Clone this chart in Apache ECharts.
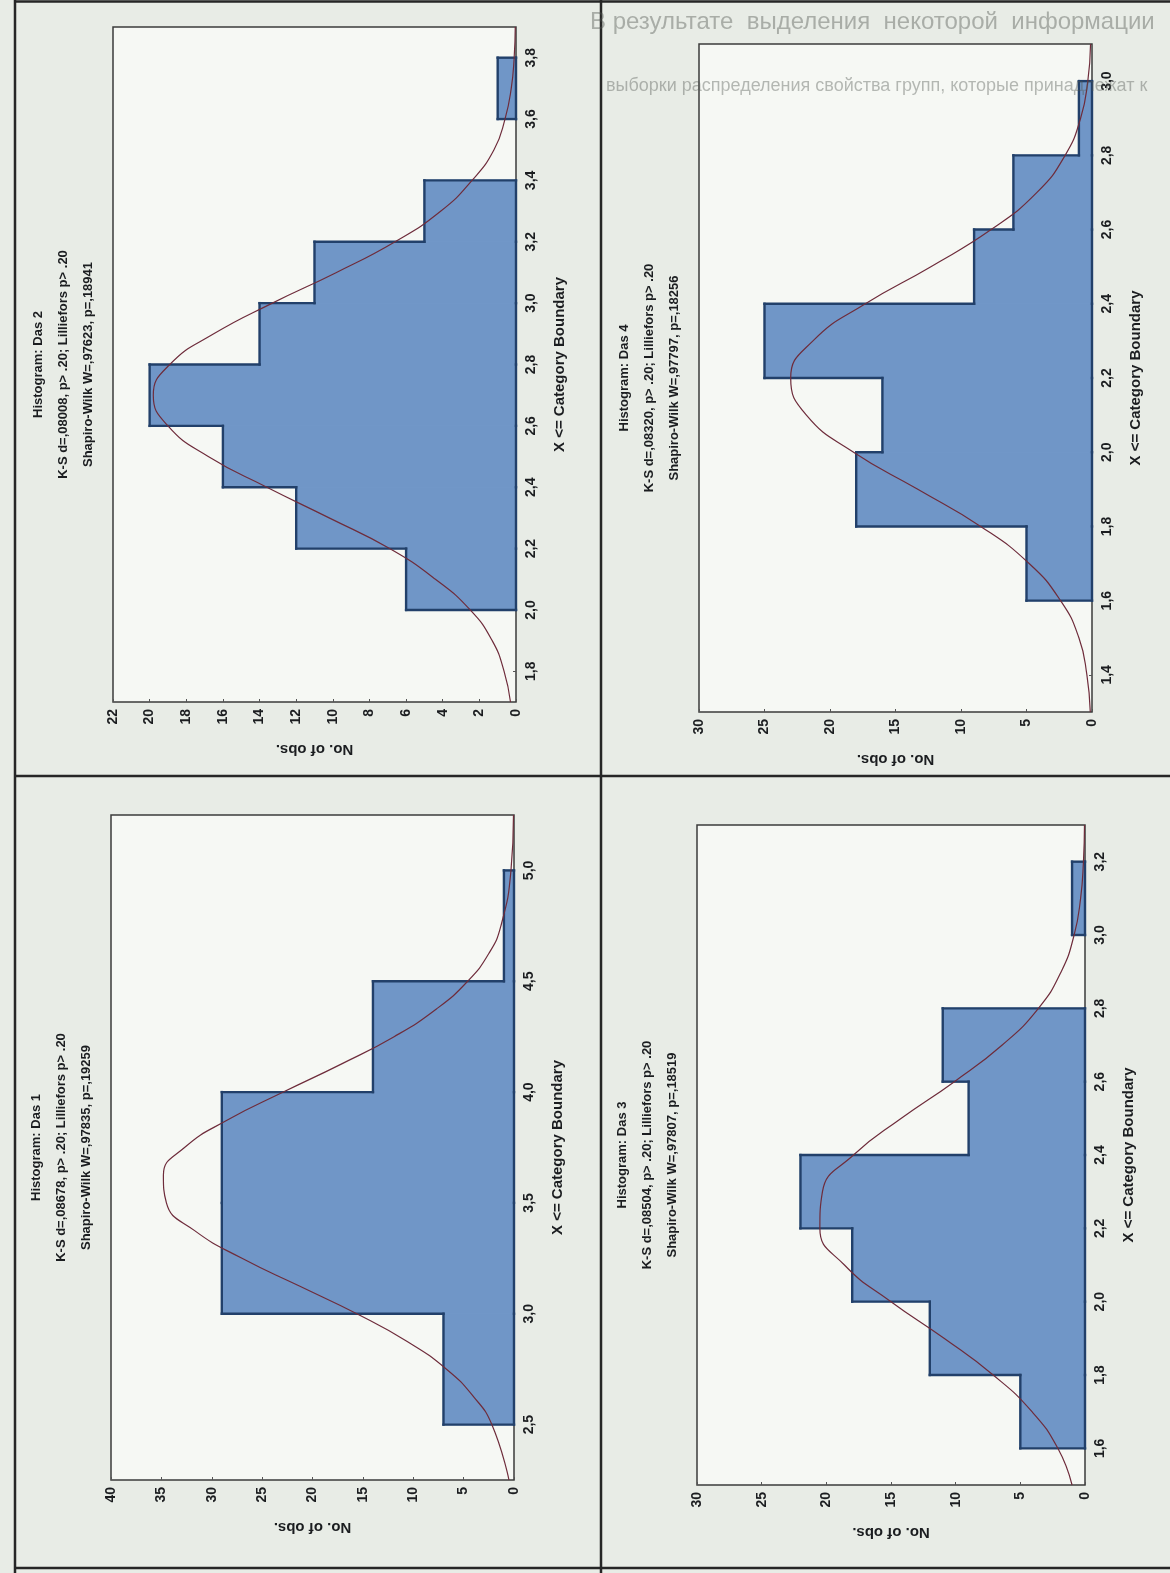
<!DOCTYPE html>
<html>
<head>
<meta charset="utf-8">
<script src="https://cdn.jsdelivr.net/npm/echarts@6/dist/echarts.min.js"></script>
<style>
  html, body { margin: 0; padding: 0; background: #e8ece6; }
  #chart { width: 1170px; height: 1573px; }
</style>
</head>
<body>
<div id="chart"></div>
<script>
// Four histograms (Das 1..4) with fitted normal curves, drawn turned on their side:
// category boundaries run up the right-hand axis, counts run leftward along the bottom.

// ---- Das 1 ----
const das1Edges = [2.5, 3.0, 3.5, 4.0, 4.5, 5.0];
const das1Counts = [7, 29, 29, 14, 1];
const das1Ticks = [2.5, 3.0, 3.5, 4.0, 4.5, 5.0];
const das1Curve = [[2.25, 0.5], [2.5, 2.2], [2.625, 4.0], [2.75, 6.7], [2.875, 10.6], [3.0, 15.6],
  [3.125, 21.3], [3.25, 27.0], [3.375, 31.7], [3.5, 34.5], [3.625, 34.8], [3.75, 32.7], [3.875, 28.4],
  [4.0, 22.9], [4.125, 17.2], [4.25, 11.9], [4.375, 7.7], [4.5, 4.6], [4.625, 2.5], [4.75, 1.3],
  [5.0, 0.3], [5.25, 0.05]];
const das1Title = ['Histogram: Das 1', 'K-S d=,08678, p> .20; Lilliefors p> .20', 'Shapiro-Wilk W=,97835, p=,19259'];

// ---- Das 2 ----
const das2Edges = [2.0, 2.2, 2.4, 2.6, 2.8, 3.0, 3.2, 3.4, 3.6, 3.8];
const das2Counts = [6, 12, 16, 20, 14, 11, 5, 0, 1];
const das2Ticks = [1.8, 2.0, 2.2, 2.4, 2.6, 2.8, 3.0, 3.2, 3.4, 3.6, 3.8];
const das2Curve = [[1.7, 0.3], [1.8, 0.65], [1.9, 1.3], [2.0, 2.5], [2.1, 4.4], [2.2, 6.9], [2.3, 10.2],
  [2.4, 13.6], [2.5, 16.8], [2.6, 19.0], [2.7, 19.8], [2.8, 18.9], [2.9, 16.5], [3.0, 13.3], [3.1, 9.8],
  [3.2, 6.6], [3.3, 4.1], [3.4, 2.4], [3.5, 1.2], [3.6, 0.6], [3.7, 0.26], [3.8, 0.1], [3.9, 0.04]];
const das2Title = ['Histogram: Das 2', 'K-S d=,08008, p> .20; Lilliefors p> .20', 'Shapiro-Wilk W=,97623, p=,18941'];

// ---- Das 3 ----
const das3Edges = [1.6, 1.8, 2.0, 2.2, 2.4, 2.6, 2.8, 3.0, 3.2];
const das3Counts = [5, 12, 18, 22, 9, 11, 0, 1];
const das3Ticks = [1.6, 1.8, 2.0, 2.2, 2.4, 2.6, 2.8, 3.0, 3.2];
const das3Curve = [[1.5, 1.0], [1.6, 2.1], [1.7, 4.1], [1.8, 7.1], [1.9, 10.9], [2.0, 15.0], [2.1, 18.6],
  [2.2, 20.5], [2.3, 20.3], [2.4, 17.9], [2.5, 14.2], [2.6, 10.1], [2.7, 6.4], [2.8, 3.6], [2.9, 1.84],
  [3.0, 0.84], [3.1, 0.34], [3.2, 0.12], [3.3, 0.04]];
const das3Title = ['Histogram: Das 3', 'K-S d=,08504, p> .20; Lilliefors p> .20', 'Shapiro-Wilk W=,97807, p=,18519'];

// ---- Das 4 ----
const das4Edges = [1.6, 1.8, 2.0, 2.2, 2.4, 2.6, 2.8, 3.0];
const das4Counts = [5, 18, 16, 25, 9, 6, 1];
const das4Ticks = [1.4, 1.6, 1.8, 2.0, 2.2, 2.4, 2.6, 2.8, 3.0];
const das4Curve = [[1.3, 0.13], [1.4, 0.39], [1.5, 1.0], [1.6, 2.4], [1.7, 4.8], [1.8, 8.5], [1.9, 13.3],
  [2.0, 18.2], [2.1, 21.8], [2.2, 23.0], [2.3, 21.3], [2.4, 17.3], [2.5, 12.3], [2.6, 7.7], [2.7, 4.2],
  [2.8, 2.05], [2.9, 0.87], [3.0, 0.32], [3.1, 0.11]];
const das4Title = ['Histogram: Das 4', 'K-S d=,08320, p> .20; Lilliefors p> .20', 'Shapiro-Wilk W=,97797, p=,18256'];

const countAxisName = 'No. of obs.';
const valueAxisName = 'X <= Category Boundary';

// faint lines of the facing page that show through the paper at the top right
const showThroughLines = ['В результате  выделения  некоторой  информации',
                          'выборки распределения свойства групп, которые принадлежат к'];

// ---- look ----
const FONT = '"Liberation Sans Narrow", "Liberation Sans", Arial, sans-serif';
const INK = '#1b1d20';
const BAR_FILL = '#7096c7';
const BAR_EDGE = '#22406a';
const CURVE = '#6e2c3b';
const PLOT_BG = '#f6f8f4';
const FRAME = '#262626';

const panels = [
  { edges: das2Edges, counts: das2Counts, ticks: das2Ticks, curve: das2Curve, title: das2Title,
    vMin: 1.7, vMax: 3.9, cMax: 22, cStep: 2,
    box: { left: 113, top: 27, width: 403, height: 675 }, titleX: [38, 63, 88] },
  { edges: das4Edges, counts: das4Counts, ticks: das4Ticks, curve: das4Curve, title: das4Title,
    vMin: 1.3, vMax: 3.1, cMax: 30, cStep: 5,
    box: { left: 699, top: 44, width: 393, height: 668 }, titleX: [624, 649, 674] },
  { edges: das1Edges, counts: das1Counts, ticks: das1Ticks, curve: das1Curve, title: das1Title,
    vMin: 2.25, vMax: 5.25, cMax: 40, cStep: 5,
    box: { left: 111, top: 815, width: 403, height: 665 }, titleX: [36, 61, 86] },
  { edges: das3Edges, counts: das3Counts, ticks: das3Ticks, curve: das3Curve, title: das3Title,
    vMin: 1.5, vMax: 3.3, cMax: 30, cStep: 5,
    box: { left: 697, top: 825, width: 388, height: 660 }, titleX: [622, 647, 672] }
];

const labelStyle = { fontFamily: FONT, fontWeight: 'bold', fontSize: 14, color: INK };
const decimalComma = v => v.toFixed(1).replace('.', ',');

const grid = [], xAxis = [], yAxis = [], series = [], graphic = [];

panels.forEach((p, i) => {
  grid.push(Object.assign({ show: true, backgroundColor: PLOT_BG, borderColor: '#3b3b3b', borderWidth: 1.5 }, p.box));

  // counts: zero on the right, growing to the left
  xAxis.push({
    gridIndex: i, type: 'value', inverse: true, position: 'bottom',
    min: 0, max: p.cMax, interval: p.cStep,
    axisLine: { show: false },
    axisTick: { show: true, inside: true, length: 3, lineStyle: { color: '#555', width: 1 } },
    splitLine: { show: false },
    axisLabel: Object.assign({ rotate: 90, margin: 7 }, labelStyle),
    name: countAxisName, nameLocation: 'middle', nameGap: 40, nameRotate: 180,
    nameTextStyle: Object.assign({}, labelStyle, { fontSize: 15 })
  });

  // category boundaries: running upward along the right edge
  yAxis.push({
    gridIndex: i, type: 'value', position: 'right',
    min: p.vMin, max: p.vMax,
    axisLine: { show: false },
    axisTick: { show: true, inside: true, length: 3, customValues: p.ticks, lineStyle: { color: '#555', width: 1 } },
    splitLine: { show: false },
    axisLabel: Object.assign({ rotate: 90, margin: 8, customValues: p.ticks, formatter: decimalComma }, labelStyle),
    name: valueAxisName, nameLocation: 'middle', nameGap: 36, nameRotate: 90,
    nameTextStyle: Object.assign({}, labelStyle, { fontSize: 15 })
  });

  // histogram bars: filled bins plus the outer step outline only
  // (no separators where neighbouring bins meet)
  series.push({
    type: 'custom', xAxisIndex: i, yAxisIndex: i, z: 2,
    data: p.counts.map((c, k) => [p.edges[k], p.edges[k + 1], c,
                                  k > 0 ? p.counts[k - 1] : 0,
                                  k < p.counts.length - 1 ? p.counts[k + 1] : 0]),
    encode: { x: 2, y: [0, 1] },
    renderItem: (params, api) => {
      const lo = api.value(0), hi = api.value(1), c = api.value(2);
      const below = api.value(3), above = api.value(4);
      if (!c) return null;
      const a = api.coord([0, lo]);
      const b = api.coord([c, hi]);
      const edge = { stroke: BAR_EDGE, lineWidth: 2.4, lineCap: 'square' };
      const children = [{
        type: 'rect',
        shape: { x: Math.min(a[0], b[0]), y: Math.min(a[1], b[1]),
                 width: Math.abs(a[0] - b[0]), height: Math.abs(a[1] - b[1]) },
        style: { fill: BAR_FILL, stroke: BAR_FILL, lineWidth: 1.2 }
      }];
      const seg = (p1, p2) => children.push({
        type: 'line', z2: 5, shape: { x1: p1[0], y1: p1[1], x2: p2[0], y2: p2[1] }, style: edge
      });
      seg(api.coord([c, lo]), api.coord([c, hi]));          // outer end of the bar
      seg(api.coord([0, lo]), api.coord([0, hi]));          // base along zero
      if (c > below) seg(api.coord([below, lo]), api.coord([c, lo]));
      if (c > above) seg(api.coord([above, hi]), api.coord([c, hi]));
      return { type: 'group', children };
    }
  });

  // fitted normal curve
  series.push({
    type: 'line', xAxisIndex: i, yAxisIndex: i, z: 3,
    data: p.curve.map(([v, c]) => [c, v]),
    smooth: 0.5, symbol: 'none', clip: true,
    lineStyle: { color: CURVE, width: 1.2 }
  });

  // three-line title, sitting to the left of the plot and reading upward
  const cy = p.box.top + p.box.height / 2;
  p.title.forEach((t, k) => {
    graphic.push({
      type: 'text', x: p.titleX[k], y: cy, rotation: Math.PI / 2, z: 10,
      style: { text: t, fill: INK, font: 'bold 13px ' + FONT,
               align: 'center', verticalAlign: 'middle', textAlign: 'center', textVerticalAlign: 'middle' }
    });
  });
});

// page frame and the cross dividing the four panels
const frameLines = [
  [15, 0, 15, 1573], [15, 1.5, 1170, 1.5], [15, 1568, 1170, 1568],
  [601, 0, 601, 1573], [15, 776, 1170, 776]
];
frameLines.forEach(([x1, y1, x2, y2]) => {
  graphic.push({ type: 'line', shape: { x1, y1, x2, y2 }, style: { stroke: FRAME, lineWidth: 2.5 }, z: 5 });
});

// show-through text of the facing page
graphic.push({
  type: 'text', x: 590, y: 22, z: 20, silent: true,
  style: { text: showThroughLines[0], fill: 'rgba(80, 86, 80, 0.42)', font: '24px "Liberation Sans", sans-serif',
           align: 'left', verticalAlign: 'middle', textAlign: 'left', textVerticalAlign: 'middle' }
});
graphic.push({
  type: 'text', x: 606, y: 86, z: 20, silent: true,
  style: { text: showThroughLines[1], fill: 'rgba(80, 86, 80, 0.40)', font: '18px "Liberation Sans", sans-serif',
           align: 'left', verticalAlign: 'middle', textAlign: 'left', textVerticalAlign: 'middle' }
});

const chart = echarts.init(document.getElementById('chart'), null, { renderer: 'canvas' });
chart.setOption({
  backgroundColor: '#e8ece6',
  animation: false,
  grid, xAxis, yAxis, series, graphic
});
</script>
</body>
</html>
